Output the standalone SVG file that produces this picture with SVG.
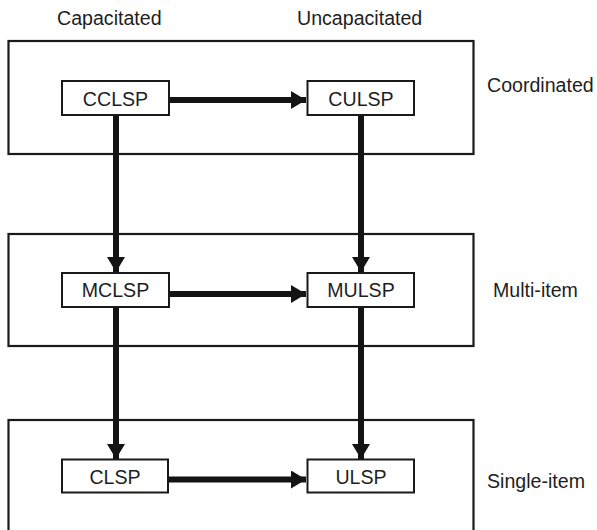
<svg xmlns="http://www.w3.org/2000/svg" width="597" height="530" viewBox="0 0 597 530">
<style>
.frame{fill:none;stroke:#1a1a1a;stroke-width:2.2}
.node{fill:#fff;stroke:#1a1a1a;stroke-width:2}
.t{font-family:"Liberation Sans",Arial,sans-serif;font-size:19.6px;fill:#1e1e1e}
.c{text-anchor:middle}
.edge{stroke:#141414;stroke-width:6;fill:none}
</style>
<defs>
<marker id="ah" markerUnits="userSpaceOnUse" markerWidth="16" markerHeight="20" refX="15" refY="9" orient="auto">
<path d="M0,0 L15,9 L0,18 Z" fill="#141414"/>
</marker>
</defs>
<rect width="597" height="530" fill="#fff"/>
<g id="labels">
<text class="t" x="57" y="24.5">Capacitated</text>
<text class="t" x="297" y="24.5">Uncapacitated</text>
<text class="t" x="487" y="92">Coordinated</text>
<text class="t" x="493" y="297">Multi-item</text>
<text class="t" x="487" y="488">Single-item</text>
</g>
<g id="frames">
<rect class="frame" x="8.5" y="41" width="465" height="113"/>
<rect class="frame" x="8.5" y="234" width="465" height="112"/>
<rect class="frame" x="8.5" y="420" width="465" height="130"/>
</g>
<g id="connectors">
<line class="edge" x1="169" y1="100" x2="306" y2="100" marker-end="url(#ah)"/>
<line class="edge" x1="169" y1="294" x2="306" y2="294" marker-end="url(#ah)"/>
<line class="edge" x1="169" y1="479.5" x2="306" y2="479.5" marker-end="url(#ah)"/>
<line class="edge" x1="116" y1="115" x2="116" y2="272" marker-end="url(#ah)"/>
<line class="edge" x1="361" y1="115" x2="361" y2="272" marker-end="url(#ah)"/>
<line class="edge" x1="116" y1="307" x2="116" y2="459" marker-end="url(#ah)"/>
<line class="edge" x1="361" y1="307" x2="361" y2="459" marker-end="url(#ah)"/>
</g>
<g id="CCLSP"><rect class="node" x="62" y="81" width="107" height="34"/><text class="t c" x="115.5" y="105.5">CCLSP</text></g>
<g id="CULSP"><rect class="node" x="307.5" y="81" width="106.5" height="34"/><text class="t c" x="361" y="105.5">CULSP</text></g>
<g id="MCLSP"><rect class="node" x="62" y="273" width="107" height="34"/><text class="t c" x="115.5" y="297">MCLSP</text></g>
<g id="MULSP"><rect class="node" x="307.5" y="273" width="106.5" height="34"/><text class="t c" x="361" y="297">MULSP</text></g>
<g id="CLSP"><rect class="node" x="62" y="459.5" width="106" height="33"/><text class="t c" x="115" y="483.5">CLSP</text></g>
<g id="ULSP"><rect class="node" x="307.5" y="459.5" width="106.5" height="33"/><text class="t c" x="361" y="483.5">ULSP</text></g>
</svg>
